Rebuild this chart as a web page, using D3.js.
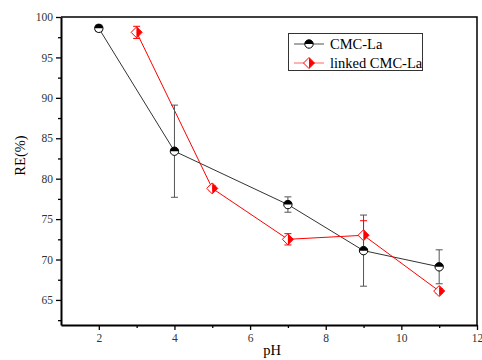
<!DOCTYPE html>
<html>
<head>
<meta charset="utf-8">
<script src="https://cdn.jsdelivr.net/npm/d3@7"></script>
<style>
  body { margin: 0; background: #fff; }
  text { font-family: "Liberation Serif", "Times New Roman", serif; }
</style>
</head>
<body>
<div id="chart"></div>
<script>
// data
var phCmc = [2, 4, 7, 9, 11];
var reCmc = [98.6, 83.4, 76.8, 71.1, 69.1];
var errCmc = [0.4, 5.7, 0.95, 4.4, 2.1];

var phLinked = [3, 5, 7, 9, 11];
var reLinked = [98.1, 78.8, 72.5, 73.0, 66.1];
var errLinked = [0.75, 0.3, 0.7, 1.8, 0.3];

var xTicks = [2, 4, 6, 8, 10, 12];
var yTicks = [65, 70, 75, 80, 85, 90, 95, 100];
var seriesNames = ["CMC-La", "linked CMC-La"];

var width = 482, height = 360;
var margin = {top: 17, right: 5, bottom: 35, left: 61};

var svg = d3.select("#chart").append("svg")
    .attr("width", width)
    .attr("height", height);

var x = d3.scaleLinear().domain([1, 12]).range([margin.left, width - margin.right]);
var y = d3.scaleLinear().domain([61.9, 100]).range([height - margin.bottom, margin.top]);

// frame (top + right)
svg.append("path")
    .attr("d", "M" + x(1) + "," + y(100) + "H" + x(12) + "V" + y(61.9))
    .attr("fill", "none")
    .attr("stroke", "#000")
    .attr("stroke-width", 1.5);

// x axis
svg.append("g")
    .attr("transform", "translate(0," + y(61.9) + ")")
    .call(d3.axisBottom(x).tickValues(xTicks).tickSize(5).tickPadding(4).tickSizeOuter(0));
svg.append("g")
    .attr("transform", "translate(0," + y(61.9) + ")")
    .call(d3.axisBottom(x).tickValues(d3.range(3, 12, 2)).tickSize(3).tickFormat("").tickSizeOuter(0))
    .select(".domain").remove();

// y axis
svg.append("g")
    .attr("transform", "translate(" + x(1) + ",0)")
    .call(d3.axisLeft(y).tickValues(yTicks).tickSize(5).tickPadding(3).tickSizeOuter(0));
svg.append("g")
    .attr("transform", "translate(" + x(1) + ",0)")
    .call(d3.axisLeft(y).tickValues([62.5, 67.5, 72.5, 77.5, 82.5, 87.5, 92.5, 97.5]).tickSize(3).tickFormat("").tickSizeOuter(0))
    .select(".domain").remove();

svg.selectAll(".domain").attr("stroke-width", 2);
svg.selectAll(".tick line").attr("stroke-width", 1.3);
svg.selectAll("g").attr("font-family", "Liberation Serif");
svg.selectAll(".tick text")
    .attr("font-size", 11.5)
    .attr("fill", "#333");

// axis titles
svg.append("text")
    .attr("x", 272)
    .attr("y", 355)
    .attr("text-anchor", "middle")
    .attr("font-size", 14.5)
    .text("pH");
svg.append("text")
    .attr("transform", "translate(25,155.5) rotate(-90)")
    .attr("text-anchor", "middle")
    .attr("font-size", 14.5)
    .text("RE(%)");

// error bars
function errorBars(xs, ys, es, color) {
    var g = svg.append("g").attr("stroke", color).attr("stroke-width", 1).attr("fill", "none");
    xs.forEach(function(px, i) {
        var cx = x(px), t = y(ys[i] + es[i]), b = y(ys[i] - es[i]);
        g.append("path").attr("d",
            "M" + cx + "," + t + "V" + b +
            "M" + (cx - 3.5) + "," + t + "H" + (cx + 3.5) +
            "M" + (cx - 3.5) + "," + b + "H" + (cx + 3.5));
    });
}

var line = d3.line();

function drawLine(xs, ys, color) {
    svg.append("path")
        .attr("d", line(xs.map(function(px, i) { return [x(px), y(ys[i])]; })))
        .attr("fill", "none")
        .attr("stroke", color)
        .attr("stroke-width", 1);
}

// half-filled circle marker
function circleMarker(g, cx, cy) {
    var r = 4.2;
    g.append("circle").attr("cx", cx).attr("cy", cy).attr("r", r).attr("fill", "#fff");
    g.append("path")
        .attr("d", "M" + (cx - r) + "," + cy + "A" + r + "," + r + " 0 0 1 " + (cx + r) + "," + cy + "Z")
        .attr("fill", "#000");
    g.append("circle").attr("cx", cx).attr("cy", cy).attr("r", r)
        .attr("fill", "none").attr("stroke", "#000").attr("stroke-width", 1);
}

// half-filled diamond marker
function diamondMarker(g, cx, cy) {
    var s = 5.5;
    g.append("path")
        .attr("d", "M" + cx + "," + (cy - s) + "L" + (cx - s) + "," + cy + "L" + cx + "," + (cy + s) + "Z")
        .attr("fill", "#fff");
    g.append("path")
        .attr("d", "M" + cx + "," + (cy - s) + "L" + (cx + s) + "," + cy + "L" + cx + "," + (cy + s) + "Z")
        .attr("fill", "#f00");
    g.append("path")
        .attr("d", "M" + cx + "," + (cy - s) + "L" + (cx + s) + "," + cy + "L" + cx + "," + (cy + s) + "L" + (cx - s) + "," + cy + "Z")
        .attr("fill", "none").attr("stroke", "#f00").attr("stroke-width", 1);
}

drawLine(phCmc, reCmc, "#333");
drawLine(phLinked, reLinked, "#f00");
errorBars(phCmc, reCmc, errCmc, "#555");
errorBars(phLinked, reLinked, errLinked, "#f00");

var markers = svg.append("g");
phCmc.forEach(function(px, i) { circleMarker(markers, x(px), y(reCmc[i])); });
phLinked.forEach(function(px, i) { diamondMarker(markers, x(px), y(reLinked[i])); });

// legend
var lg = svg.append("g");
lg.append("rect")
    .attr("x", 288.5).attr("y", 33.5)
    .attr("width", 134).attr("height", 37)
    .attr("fill", "#fff").attr("stroke", "#333").attr("stroke-width", 1);
[0, 1].forEach(function(i) {
    var ly = 44 + i * 19;
    lg.append("line")
        .attr("x1", 294).attr("x2", 324).attr("y1", ly).attr("y2", ly)
        .attr("stroke", i === 0 ? "#777" : "#f88").attr("stroke-width", 1.3);
    if (i === 0) circleMarker(lg, 309, ly); else diamondMarker(lg, 309, ly);
    lg.append("text")
        .attr("x", 330).attr("y", ly + 4.5)
        .attr("font-size", 14.5)
        .text(seriesNames[i]);
});
</script>
</body>
</html>
